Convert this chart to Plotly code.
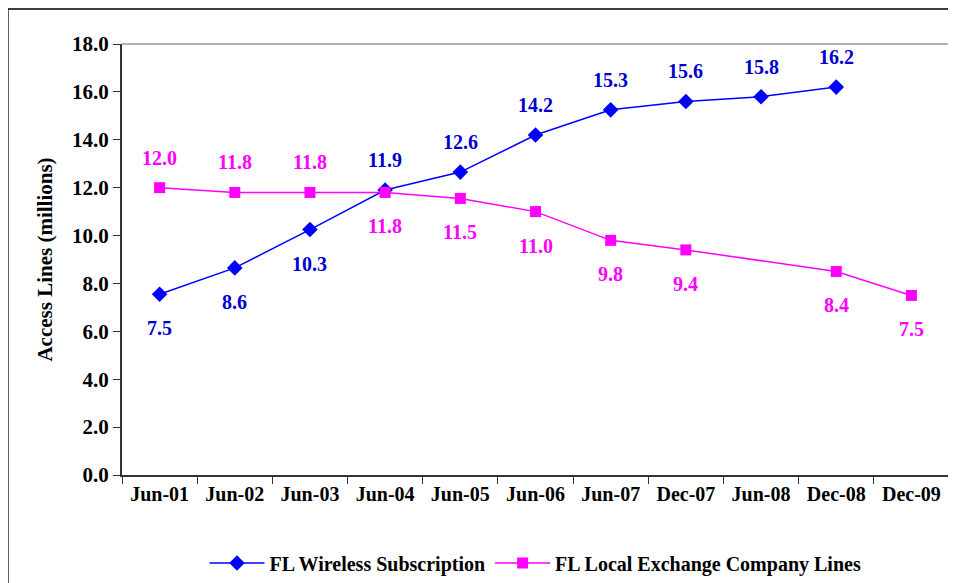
import plotly.graph_objects as go

# categories and series (marker values, labels as printed)
periods = ["Jun-01", "Jun-02", "Jun-03", "Jun-04", "Jun-05", "Jun-06",
           "Jun-07", "Dec-07", "Jun-08", "Dec-08", "Dec-09"]
wireless = [7.55, 8.65, 10.25, 11.9, 12.65, 14.2, 15.25, 15.6, 15.8, 16.2, None]
wireless_labels = ["7.5", "8.6", "10.3", "11.9", "12.6", "14.2", "15.3", "15.6", "15.8", "16.2", None]
wireless_above = [False, False, False, True, True, True, True, True, True, True, None]
local = [12.0, 11.8, 11.8, 11.8, 11.55, 11.0, 9.8, 9.4, None, 8.5, 7.5]
local_labels = ["12.0", "11.8", "11.8", "11.8", "11.5", "11.0", "9.8", "9.4", None, "8.4", "7.5"]
local_above = [True, True, True, False, False, False, False, False, None, False, False]

FONT = "Liberation Serif"
BLUE = "#0000FF"
MAGENTA = "#FF00FF"

fig = go.Figure()
fig.add_trace(go.Scatter(
    x=periods, y=wireless, name="FL Wireless Subscription",
    mode="lines+markers", connectgaps=True,
    line=dict(color=BLUE, width=1.5),
    marker=dict(symbol="diamond", size=12, color=BLUE),
))
fig.add_trace(go.Scatter(
    x=periods, y=local, name="FL Local Exchange Company Lines",
    mode="lines+markers", connectgaps=True,
    line=dict(color=MAGENTA, width=1.5),
    marker=dict(symbol="square", size=11, color=MAGENTA),
))

annotations = []
for series, labels, above, color in [
    (wireless, wireless_labels, wireless_above, "#0000CC"),
    (local, local_labels, local_above, MAGENTA),
]:
    for p, v, t, up in zip(periods, series, labels, above):
        if v is None:
            continue
        annotations.append(dict(
            x=p, y=v, text=f"<b>{t}</b>", showarrow=False,
            yshift=30 if up else -34,
            font=dict(family=FONT, size=20, color=color),
        ))

# the page body adds an 8px offset, so margins are trimmed by 8 on the top/left
fig.update_layout(
    width=956, height=583,
    margin=dict(l=114, r=15, t=36, b=116),
    paper_bgcolor="white", plot_bgcolor="white",
    font=dict(family=FONT, size=20, color="black"),
    annotations=annotations,
    showlegend=True,
    legend=dict(
        orientation="h", x=0.5, xanchor="center",
        yref="container", y=0.048, yanchor="middle",
        font=dict(family=FONT, size=20, color="black", weight="bold"),
        itemwidth=55, tracegroupgap=0,
    ),
    shapes=[
        dict(type="rect", xref="paper", yref="paper",
             x0=-0.138, x1=1.03, y0=-0.35, y1=1.081,
             line=dict(color="black", width=1.5), layer="below"),
        dict(type="line", xref="paper", yref="paper",
             x0=0, x1=1, y0=1, y1=1, line=dict(color="#999999", width=1.5)),
        dict(type="line", xref="paper", yref="paper",
             x0=1, x1=1, y0=0, y1=1, line=dict(color="#999999", width=1.5)),
    ],
)
fig.update_xaxes(
    type="category", range=[-0.5, len(periods) - 0.5],
    tickson="boundaries", ticks="outside", ticklen=7,
    tickcolor="#333333", showline=True, linecolor="#333333", linewidth=2,
    showgrid=False, automargin=False,
    tickfont=dict(family=FONT, size=20, weight="bold"),
)
fig.update_yaxes(
    range=[0, 18], dtick=2, tickformat=".1f", ticks="outside", ticklen=7,
    tickcolor="#333333", showline=True, linecolor="#333333", linewidth=2,
    showgrid=False, zeroline=False, automargin=False,
    tickfont=dict(family=FONT, size=21, weight="bold"),
    title=dict(text="Access Lines (millions)", standoff=14,
               font=dict(family=FONT, size=21, weight="bold")),
)

fig.write_html("out.html")
